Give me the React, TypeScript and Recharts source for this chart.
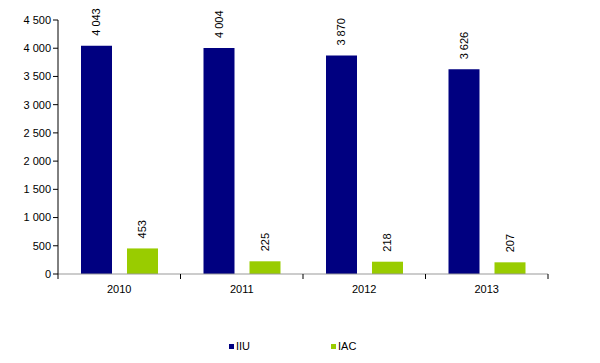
import React from "react";
import {
	Bar,
	BarChart,
	LabelList,
	Legend,
	XAxis,
	YAxis,
} from "recharts";

const years = ["2010", "2011", "2012", "2013"];
const iiu = [4043, 4004, 3870, 3626];
const iac = [453, 225, 218, 207];
const yTicks = [0, 500, 1000, 1500, 2000, 2500, 3000, 3500, 4000, 4500];
const seriesNames = ["IIU", "IAC"];
const seriesColors = ["#000080", "#99CC00"];

const data = years.map((year, i) => ({ year, IIU: iiu[i], IAC: iac[i] }));

const fmt = (v: number) => String(v).replace(/\B(?=(\d{3})+(?!\d))/g, " ");

const font = "'Liberation Sans', Arial, sans-serif";

const XTick = (props: any) => {
	const { x, y, payload, index } = props;
	const half = 61.25;
	return (
		<g>
			{index === 0 && (
				<line x1={x - half} x2={x - half} y1={y - 8} y2={y - 3} stroke="#000" />
			)}
			<line x1={x + half} x2={x + half} y1={y - 8} y2={y - 3} stroke="#000" />
			<text x={x} y={y + 11} textAnchor="middle" fontSize={11} fill="#000" fontFamily={font}>
				{payload.value}
			</text>
		</g>
	);
};

const VLabel = (props: any) => {
	const { x, y, width, value } = props;
	const cx = x + width / 2 + 4;
	const cy = y - 10;
	return (
		<text
			x={cx}
			y={cy}
			transform={`rotate(-90 ${cx} ${cy})`}
			textAnchor="start"
			fontSize={11}
			fill="#000"
			fontFamily={font}
		>
			{fmt(value)}
		</text>
	);
};

const LegendBox = () => (
	<div style={{ position: "relative", height: 12, fontSize: 11, fontFamily: font, color: "#000" }}>
		{seriesNames.map((name, i) => (
			<div
				key={name}
				style={{ position: "absolute", left: 229 + i * 102, top: 0, display: "flex", alignItems: "center" }}
			>
				<span style={{ width: 5, height: 5, background: seriesColors[i], marginRight: 2 }} />
				<span>{name}</span>
			</div>
		))}
	</div>
);

const App = () => {
	return (
		<div style={{ position: "absolute", left: 0, top: 0, background: "#fff" }}>
			<BarChart
				width={600}
				height={363}
				data={data}
				margin={{ top: 20, right: 52, left: 0, bottom: 57 }}
				barCategoryGap={23}
				barGap={15}
			>
				<XAxis
					dataKey="year"
					height={20}
					axisLine={{ stroke: "#999" }}
					tickLine={false}
					tick={<XTick />}
					interval={0}
				/>
				<YAxis
					width={58}
					domain={[0, 4500]}
					ticks={yTicks}
					tickFormatter={fmt}
					axisLine={{ stroke: "#000" }}
					tickLine={{ stroke: "#000" }}
					tickSize={5}
					tick={{ fontSize: 11, fill: "#000", fontFamily: font }}
				/>
				<Legend
					verticalAlign="bottom"
					content={<LegendBox />}
					wrapperStyle={{ top: 340, left: 0, width: 600 }}
				/>
				<Bar dataKey="IIU" fill={seriesColors[0]} isAnimationActive={false}>
					<LabelList dataKey="IIU" content={<VLabel />} />
				</Bar>
				<Bar dataKey="IAC" fill={seriesColors[1]} isAnimationActive={false}>
					<LabelList dataKey="IAC" content={<VLabel />} />
				</Bar>
			</BarChart>
		</div>
	);
};

export default App;
